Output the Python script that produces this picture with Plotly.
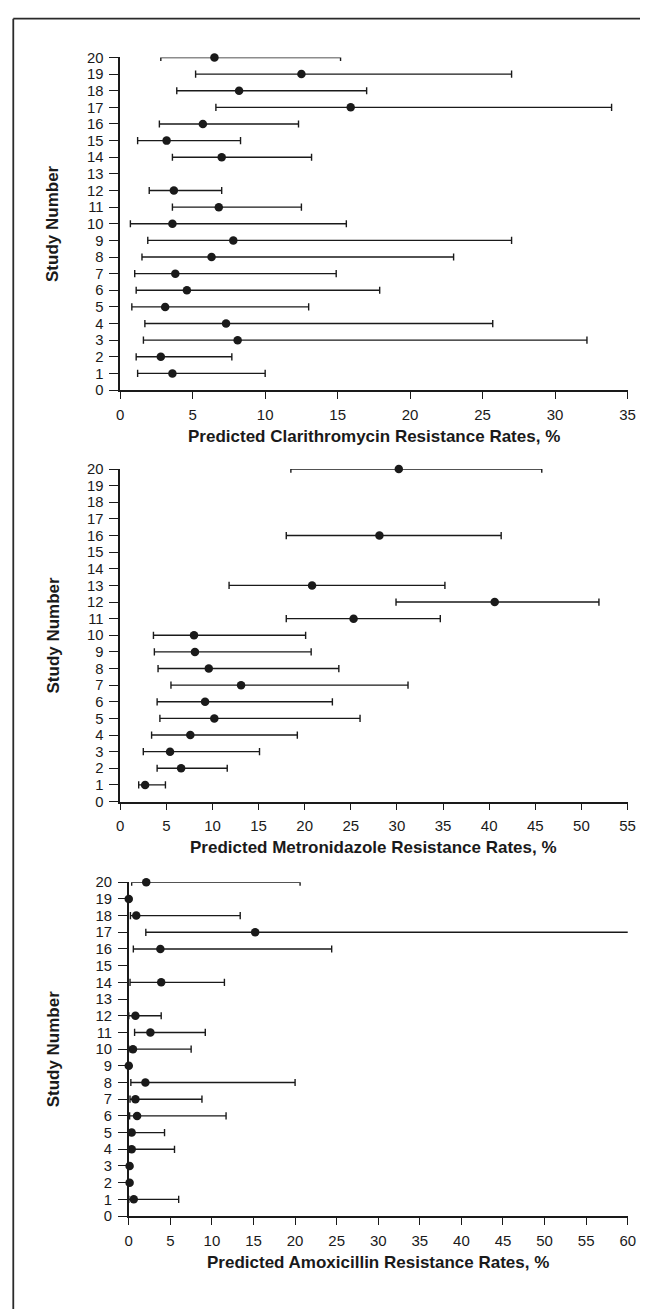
import plotly.graph_objects as go

# Page body adds an 8px margin, so the figure is sized to fill the window from (8, 8).
OFF = 8
WIN_W, WIN_H = 648, 1309
W, H = WIN_W - OFF, WIN_H - OFF

# ---- Data ----
clari_study = [20, 19, 18, 17, 16, 15, 14, 12, 11, 10, 9, 8, 7, 6, 5, 4, 3, 2, 1]
clari_est   = [6.5, 12.5, 8.2, 15.9, 5.7, 3.2, 7.0, 3.7, 6.8, 3.6, 7.8, 6.3, 3.8, 4.6, 3.1, 7.3, 8.1, 2.8, 3.6]
clari_lo    = [2.8, 5.2, 3.9, 6.6, 2.7, 1.2, 3.6, 2.0, 3.6, 0.7, 1.9, 1.5, 1.0, 1.1, 0.8, 1.7, 1.6, 1.1, 1.2]
clari_hi    = [15.2, 27.0, 17.0, 33.9, 12.3, 8.3, 13.2, 7.0, 12.5, 15.6, 27.0, 23.0, 14.9, 17.9, 13.0, 25.7, 32.2, 7.7, 10.0]

metro_study = [20, 16, 13, 12, 11, 10, 9, 8, 7, 6, 5, 4, 3, 2, 1]
metro_est   = [30.2, 28.1, 20.8, 40.6, 25.3, 8.0, 8.1, 9.6, 13.1, 9.2, 10.2, 7.6, 5.4, 6.6, 2.7]
metro_lo    = [18.5, 18.0, 11.8, 29.9, 18.0, 3.6, 3.7, 4.1, 5.5, 4.0, 4.3, 3.4, 2.5, 4.0, 2.0]
metro_hi    = [45.7, 41.3, 35.2, 51.9, 34.7, 20.1, 20.7, 23.7, 31.2, 23.0, 26.0, 19.2, 15.1, 11.6, 4.9]

amox_study = [20, 19, 18, 17, 16, 14, 12, 11, 10, 9, 8, 7, 6, 5, 4, 3, 2, 1]
amox_est   = [2.1, 0.0, 0.9, 15.2, 3.8, 3.9, 0.8, 2.6, 0.5, 0.0, 2.0, 0.8, 1.0, 0.35, 0.35, 0.1, 0.1, 0.6]
amox_lo    = [0.35, 0.0, 0.2, 2.05, 0.55, 0.15, 0.0, 0.7, 0.0, 0.0, 0.25, 0.15, 0.1, 0.0, 0.0, 0.1, 0.1, 0.0]
amox_hi    = [20.6, 0.0, 13.4, 60.2, 24.4, 11.5, 3.9, 9.2, 7.5, 0.0, 20.0, 8.8, 11.7, 4.3, 5.5, 0.1, 0.1, 6.0]

x_titles = ["Predicted Clarithromycin Resistance Rates, %",
            "Predicted Metronidazole Resistance Rates, %",
            "Predicted Amoxicillin Resistance Rates, %"]
y_title = "Study Number"
x_max = [35, 55, 60]
y_ticks = list(range(0, 21))

INK = "#1a1a1a"
FONT = "Liberation Sans"

def px_x(p):
    return (p - OFF) / W

def px_y(p):
    return 1 - (p - OFF) / H

# panel placement in window pixels: (x0, x1, ytop, ybottom)
panels = [
    (118.3, 635.3, 50.0, 386.7),
    (118.3, 635.3, 466.7, 803.3),
    (127.0, 635.5, 885.0, 1223.0),
]

series = [
    (clari_study, clari_est, clari_lo, clari_hi),
    (metro_study, metro_est, metro_lo, metro_hi),
    (amox_study, amox_est, amox_lo, amox_hi),
]

fig = go.Figure()
annotations = []
for i, ((st, est, lo, hi), (x0, x1, yt, yb)) in enumerate(zip(series, panels)):
    n = i + 1
    xa = "x" if n == 1 else f"x{n}"
    ya = "y" if n == 1 else f"y{n}"
    plus = [h - e for h, e in zip(hi, est)]
    minus = [e - l for e, l in zip(est, lo)]
    fig.add_trace(go.Scatter(
        x=est, y=st, mode="markers", xaxis=xa, yaxis=ya,
        marker=dict(size=8.5, color=INK),
        error_x=dict(type="data", array=plus, arrayminus=minus, symmetric=False,
                     color=INK, thickness=1.4, width=3.6),
        cliponaxis=False, showlegend=False, hoverinfo="x+y",
    ))
    axx = dict(domain=[px_x(x0), px_x(x1)], range=[0, x_max[i]], anchor=ya,
               tickmode="linear", tick0=0, dtick=5, ticks="outside", ticklen=7,
               tickwidth=1.3, tickcolor=INK, showline=True, linecolor=INK, linewidth=1.5,
               showgrid=False, zeroline=False, fixedrange=True,
               tickfont=dict(family=FONT, size=15, color=INK), ticklabelstandoff=3)
    axy = dict(domain=[px_y(yb), px_y(yt)], range=[0, 20], anchor=xa,
               tickmode="array", tickvals=y_ticks, ticktext=[str(v) for v in y_ticks],
               ticks="outside", ticklen=9, tickwidth=1.3, tickcolor=INK,
               showline=True, linecolor=INK, linewidth=1.5, showgrid=False,
               zeroline=False, fixedrange=True,
               tickfont=dict(family=FONT, size=14.8, color=INK), ticklabelstandoff=3)
    fig.update_layout(**{("xaxis" if n == 1 else f"xaxis{n}"): axx,
                         ("yaxis" if n == 1 else f"yaxis{n}"): axy})
    annotations.append(dict(text=f"<b>{x_titles[i]}</b>", xref="paper", yref="paper",
                            x=px_x((x0 + x1) / 2), y=px_y(yb + 47),
                            xanchor="center", yanchor="middle", showarrow=False,
                            font=dict(family=FONT, size=17, color=INK)))
    annotations.append(dict(text=f"<b>{y_title}</b>", xref="paper", yref="paper",
                            x=px_x(50), y=px_y((yt + yb) / 2), textangle=-90,
                            xanchor="center", yanchor="middle", showarrow=False,
                            font=dict(family=FONT, size=17, color=INK)))

shapes = [
    dict(type="line", xref="paper", yref="paper", x0=px_x(9.3), x1=1.02,
         y0=px_y(10.7), y1=px_y(10.7), line=dict(color="#2a2a2a", width=1.8)),
    dict(type="line", xref="paper", yref="paper", x0=px_x(9.3), x1=px_x(9.3),
         y0=px_y(10.7), y1=-0.02, line=dict(color="#2a2a2a", width=1.8)),
]

fig.update_layout(width=W, height=H, margin=dict(l=0, r=0, t=0, b=0),
                  paper_bgcolor="white", plot_bgcolor="white",
                  annotations=annotations, shapes=shapes,
                  font=dict(family=FONT, color=INK))

fig.write_html("out.html")
